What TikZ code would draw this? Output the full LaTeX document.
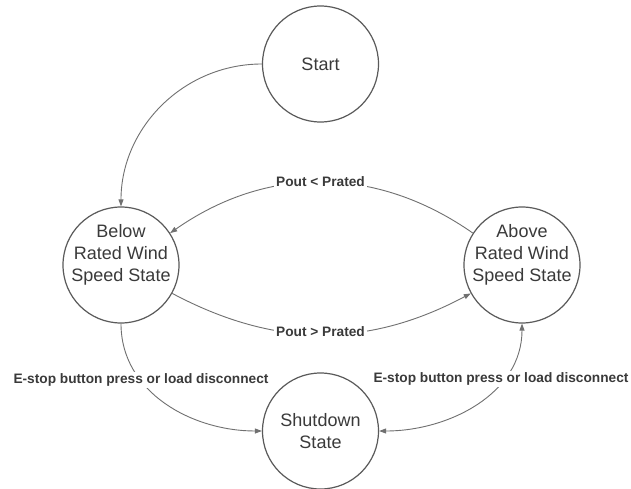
\documentclass[tikz,border=0pt]{standalone}
\usepackage{fontspec}
\setmainfont{Liberation Sans}
\usetikzlibrary{arrows.meta}
\definecolor{ring}{HTML}{5A5A5A}
\definecolor{wire}{HTML}{707070}
\definecolor{ink}{HTML}{3A3A3A}
\tikzset{
  state/.style={circle,draw=ring,line width=1.2pt,minimum size=116pt,inner sep=0pt},
  stext/.style={align=center,text=ink,font=\fontsize{18}{22}\selectfont,inner sep=0pt},
  conn/.style={draw=wire,line width=0.9pt,-{Triangle[length=7pt,width=5pt]}},
  conn2/.style={draw=wire,line width=0.9pt,{Triangle[length=7pt,width=5pt]}-{Triangle[length=7pt,width=5pt]}},
  elabel/.style={fill=white,text=ink,font=\bfseries\fontsize{13.7}{16}\selectfont,inner sep=2pt}
}
\begin{document}
\begin{tikzpicture}[x=1pt,y=1pt]
\useasboundingbox[fill=white] (0,0) rectangle (631,488);
\node[state] (start) at (320.5,424) {};
\node[state] (below) at (121,223) {};
\node[state] (above) at (522,223) {};
\node[state] (shut) at (320.5,57) {};
\node[stext] (tstart) at (start.center) {Start};
\node[stext] (tbelow) at ([yshift=10pt]below.center) {Below\\Rated Wind\\Speed State};
\node[stext] (tabove) at ([yshift=10pt]above.center) {Above\\Rated Wind\\Speed State};
\node[stext] (tshut) at (shut.center) {Shutdown\\State};
\draw[conn] (start.west) to[out=180,in=90] (below.north);
\draw[conn] (above.147) to[out=145,in=35] (below.33);
\draw[conn] (below.-29) to[out=-28,in=-152] (above.209);
\draw[conn] (below.south) to[out=-90,in=180] (shut.west);
\draw[conn2] (shut.east) to[out=0,in=-90] (above.south);
\node[elabel] (l1) at (320.5,306) {Pout < Prated};
\node[elabel] (l2) at (320.5,156) {Pout > Prated};
\node[elabel] (l3) at (141,108) {E-stop button press or load disconnect};
\node[elabel] (l4) at (501,109) {E-stop button press or load disconnect};
\end{tikzpicture}
\end{document}
